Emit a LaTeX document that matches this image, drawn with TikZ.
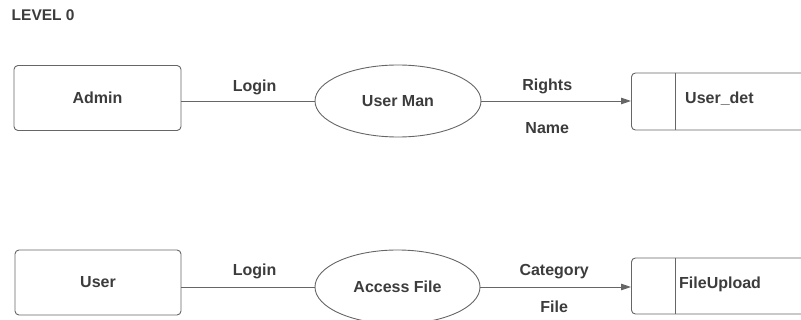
\documentclass[tikz,border=0pt]{standalone}
\usepackage{fontspec}
\setmainfont{Liberation Sans}
\usetikzlibrary{shapes.geometric,arrows.meta}
\definecolor{ink}{HTML}{3C3C3C}
\definecolor{edge}{HTML}{666666}
\tikzset{
  x=1pt, y=-1pt,
  txt/.style={font=\fontsize{16}{19}\selectfont\bfseries, text=ink, inner sep=0pt},
  entity/.style={draw=edge, line width=0.9pt, rounded corners=4pt, rectangle, inner sep=0pt},
  process/.style={draw=edge, line width=0.9pt, ellipse, inner sep=0pt},
  storebox/.style={draw=edge, line width=0.9pt, rounded corners=4pt, rectangle, inner sep=0pt, anchor=west},
  flow/.style={draw=edge, line width=0.9pt},
  dflow/.style={flow, -{Triangle[length=10pt,width=6.5pt]}},
  lbl/.style={txt},
}
\begin{document}
\begin{tikzpicture}
\useasboundingbox (0,0) rectangle (801,320);
\clip (0,0) rectangle (801,320);

\node[txt, font=\fontsize{15.5}{18}\selectfont\bfseries, anchor=west] (title) at (11.5,15) {LEVEL 0};

% upper row
\node[entity, minimum width=167, minimum height=65] (admin) at (97.5,98) {};
\node[txt] (admint) at (admin) {Admin};
\node[process, minimum width=166, minimum height=72] (uman) at (398,101) {};
\node[txt] (umant) at (uman) {User Man};
\node[storebox, minimum width=190, minimum height=57] (udet) at (631,101.5) {};
\draw[flow] ([xshift=44pt]udet.north west) -- ([xshift=44pt]udet.south west);
\node[txt, anchor=west] (udett) at (685,99) {User\_det};

\draw[flow] (admin.east |- uman.west) -- node[lbl, pos=.55, yshift=14pt] {Login} (uman.west);
\draw[dflow] (uman.east) -- node[lbl, pos=.44, yshift=15pt] {Rights}
   node[lbl, pos=.44, yshift=-27.5pt] {Name} (udet.west |- uman.east);

% lower row
\node[entity, minimum width=166, minimum height=65] (user) at (98,282.5) {};
\node[txt] (usert) at (user) {User};
\node[process, minimum width=165, minimum height=74] (afile) at (397.5,287) {};
\node[txt] (afilet) at (afile) {Access File};
\node[storebox, minimum width=190, minimum height=56] (fup) at (631,286) {};
\draw[flow] ([xshift=44pt]fup.north west) -- ([xshift=44pt]fup.south west);
\node[txt, anchor=west] (fupt) at (679,284) {FileUpload};

\draw[flow] (user.east |- afile.west) -- node[lbl, pos=.55, yshift=15.5pt] {Login} (afile.west);
\draw[dflow] (afile.east) -- node[lbl, pos=.49, yshift=15pt] {Category}
   node[lbl, pos=.49, yshift=-20pt] {File} (fup.west |- afile.east);
\end{tikzpicture}
\end{document}
